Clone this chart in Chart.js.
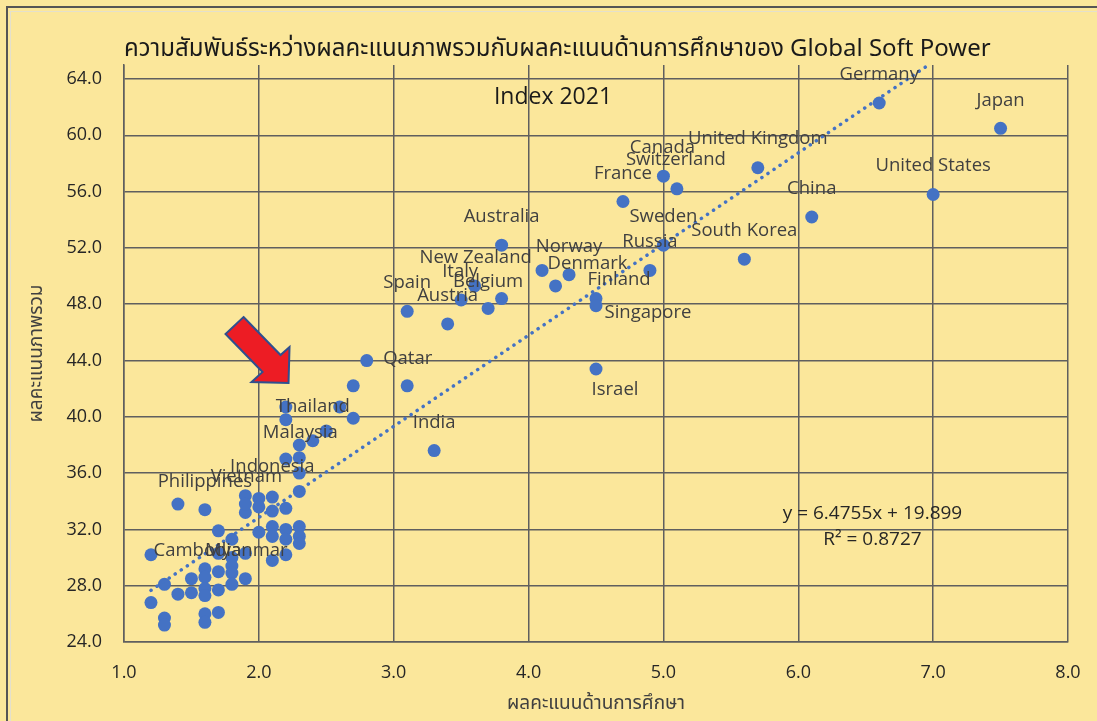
<!DOCTYPE html>
<html lang="th">
<head>
<meta charset="utf-8">
<title>Global Soft Power Index 2021</title>
<script src="https://cdn.jsdelivr.net/npm/chart.js@4.4.1/dist/chart.umd.min.js"></script>
<style>
  html, body { margin: 0; padding: 0; background: #fbe79b; overflow: hidden; }
  canvas { display: block; }
</style>
</head>
<body>
<canvas id="softPower" width="1097" height="721"></canvas>
<script>
// ประเทศที่มีชื่อกำกับ: คะแนนด้านการศึกษา (x) และคะแนนภาพรวม (y)
const countries = ['Germany', 'Japan', 'United States', 'China', 'United Kingdom', 'Canada',
  'Switzerland', 'France', 'Sweden', 'Russia', 'South Korea', 'Australia', 'Norway', 'Denmark',
  'Finland', 'Singapore', 'Israel', 'Spain', 'Austria', 'Italy', 'Belgium', 'New Zealand',
  'Qatar', 'India', 'Thailand', 'Malaysia', 'Indonesia', 'Vietnam', 'Philippines', 'Cambodia', 'Myanmar'];
const countryEducation = [6.6, 7.5, 7.0, 6.1, 5.7, 5.0,
  5.1, 4.7, 5.0, 4.9, 5.6, 3.8, 4.3, 4.2,
  4.5, 4.5, 4.5, 3.1, 3.4, 3.5, 3.7, 3.6,
  2.8, 3.3, 2.4, 2.3, 2.1, 1.9, 1.6, 1.5, 1.9];
const countryOverall = [62.3, 60.5, 55.8, 54.2, 57.7, 57.1,
  56.2, 55.3, 52.2, 50.4, 51.2, 52.2, 50.1, 49.3,
  48.4, 47.9, 43.4, 47.5, 46.6, 48.3, 47.7, 49.3,
  44.0, 37.6, 38.3, 37.1, 34.3, 33.8, 33.4, 28.5, 28.5];

// ประเทศอื่น ๆ ที่ไม่มีชื่อกำกับ
const otherEducation = [
  1.2, 1.2, 1.3, 1.3, 1.3, 1.4, 1.4, 1.5,
  1.6, 1.6, 1.6, 1.6, 1.6, 1.6,
  1.7, 1.7, 1.7, 1.7, 1.7,
  1.8, 1.8, 1.8, 1.8, 1.8,
  1.9, 1.9, 1.9, 2.0, 2.0, 2.0,
  2.1, 2.1, 2.1, 2.1,
  2.2, 2.2, 2.2, 2.2, 2.2,
  2.3, 2.3, 2.3, 2.3, 2.3, 2.3,
  2.5, 2.2, 2.2, 2.6, 2.7, 2.7, 3.1, 3.8, 4.1];
const otherOverall = [
  30.2, 26.8, 28.1, 25.7, 25.2, 33.8, 27.4, 27.5,
  29.2, 28.6, 27.8, 27.3, 26.0, 25.4,
  31.9, 30.3, 29.0, 27.7, 26.1,
  31.3, 30.0, 29.4, 28.9, 28.1,
  34.4, 33.2, 30.3, 34.2, 33.6, 31.8,
  33.3, 32.2, 31.5, 29.8,
  33.5, 32.0, 31.3, 30.2, 37.0,
  32.2, 31.5, 31.0, 34.7, 36.0, 38.0,
  39.0, 39.8, 40.7, 40.7, 39.9, 42.2, 42.2, 48.4, 50.4];

// เส้นแนวโน้มเชิงเส้น
const slope = 6.4755;
const intercept = 19.899;
const rSquared = 0.8727;

const xTicks = [1, 2, 3, 4, 5, 6, 7, 8];
const yTicks = [24, 28, 32, 36, 40, 44, 48, 52, 56, 60, 64];

// ตำแหน่งป้ายชื่อเทียบกับจุด (px)
const labelShift = [[0, -28], [0, -28], [0, -29], [0, -28], [0, -29], [-1, -28],
  [-1, -29], [0, -28], [0, -28], [0, -29], [0, -28], [0, -28], [0, -28], [32, -22],
  [23, -19], [52, 7], [19, 21], [0, -29], [0, -28], [-1, -28], [0, -27], [1, -28],
  [41, -2], [0, -28], [0, -34], [1, -25], [0, -30], [1, -27], [0, -28], [6, -28], [1, -28]];

const DOT = '#4472c4';
const THAI = '"Noto Sans Thai", "Noto Sans Thai UI", Tahoma, "Noto Sans", sans-serif';
const LATIN = '"Open Sans", "Noto Sans", sans-serif';

const allX = countryEducation.concat(otherEducation);
const trendX = [Math.min(...allX), Math.max(...allX)];

const sheetBackdrop = {
  id: 'sheetBackdrop',
  beforeDraw(chart) {
    const { ctx, width, height } = chart;
    ctx.save();
    ctx.fillStyle = '#fbe79b';
    ctx.fillRect(0, 0, width, height);
    ctx.fillStyle = '#555555';
    ctx.fillRect(6, 6, width - 6, 2);
    ctx.fillRect(6, 6, 2, height - 6);
    ctx.fillStyle = '#e4e0cc';
    ctx.fillRect(9, 11, width - 9, 1);
    ctx.fillRect(10, 11, 1, height - 11);
    ctx.restore();
  }
};

const titleText = {
  id: 'titleText',
  afterDraw(chart) {
    const { ctx, chartArea } = chart;
    ctx.save();
    ctx.fillStyle = '#1a1a1a';
    ctx.textBaseline = 'middle';
    ctx.textAlign = 'left';
    ctx.font = '24px ' + THAI;
    ctx.fillText('ความสัมพันธ์ระหว่างผลคะแนนภาพรวมกับผลคะแนนด้านการศึกษาของ Global Soft Power', chartArea.left, 51);
    ctx.textAlign = 'center';
    ctx.font = '23px ' + LATIN;
    ctx.fillText('Index 2021', 553, 97);
    ctx.restore();
  }
};

const countryLabels = {
  id: 'countryLabels',
  afterDatasetsDraw(chart) {
    const { ctx } = chart;
    const meta = chart.getDatasetMeta(0);
    ctx.save();
    ctx.fillStyle = '#404040';
    ctx.font = '18.5px ' + LATIN;
    ctx.textAlign = 'center';
    ctx.textBaseline = 'middle';
    meta.data.forEach((pt, i) => {
      ctx.fillText(countries[i], pt.x + labelShift[i][0], pt.y + labelShift[i][1]);
    });
    ctx.restore();
  }
};

// สมการและค่า R² ของเส้นแนวโน้ม
const trendNote = {
  id: 'trendNote',
  afterDatasetsDraw(chart) {
    const { ctx, scales } = chart;
    const cx = scales.x.getPixelForValue(6.55);
    const cy = scales.y.getPixelForValue(33.1);
    ctx.save();
    ctx.fillStyle = '#262626';
    ctx.font = '19px ' + LATIN;
    ctx.textAlign = 'center';
    ctx.textBaseline = 'middle';
    ctx.fillText('y = ' + slope + 'x + ' + intercept, cx, cy);
    ctx.fillText('R² = ' + rSquared, cx, cy + 26);
    ctx.restore();
  }
};

// ลูกศรสีแดงชี้ไปที่ประเทศไทย
const pointerArrow = {
  id: 'pointerArrow',
  afterDatasetsDraw(chart) {
    const { ctx, scales } = chart;
    const tx = scales.x.getPixelForValue(2.22);
    const ty = scales.y.getPixelForValue(42.4);
    const shape = [[-45, -66], [-8, -28], [1, -36], [0, 0], [-37, -1], [-26, -11], [-63, -49]];
    ctx.save();
    ctx.beginPath();
    shape.forEach(([dx, dy], i) => (i ? ctx.lineTo(tx + dx, ty + dy) : ctx.moveTo(tx + dx, ty + dy)));
    ctx.closePath();
    ctx.fillStyle = '#ed1c24';
    ctx.fill();
    ctx.lineWidth = 2;
    ctx.strokeStyle = '#2f4f8f';
    ctx.lineJoin = 'miter';
    ctx.stroke();
    ctx.restore();
  }
};

const grid = { color: '#5f5f5f', lineWidth: 1.5, drawTicks: false };

new Chart(document.getElementById('softPower'), {
  type: 'scatter',
  data: {
    datasets: [
      {
        label: 'labelled',
        data: countryEducation.map((x, i) => ({ x, y: countryOverall[i] })),
        backgroundColor: DOT,
        borderWidth: 0,
        pointRadius: 6.5,
        order: 1
      },
      {
        label: 'others',
        data: otherEducation.map((x, i) => ({ x, y: otherOverall[i] })),
        backgroundColor: DOT,
        borderWidth: 0,
        pointRadius: 6.5,
        order: 1
      },
      {
        type: 'line',
        label: 'trend',
        data: trendX.map(x => ({ x, y: slope * x + intercept })),
        borderColor: DOT,
        borderWidth: 3.5,
        borderDash: [0.1, 7.2],
        borderCapStyle: 'round',
        pointRadius: 0,
        fill: false,
        order: 0
      }
    ]
  },
  options: {
    responsive: false,
    animation: false,
    events: [],
    layout: { padding: { top: 65, right: 29, left: 0, bottom: 0 } },
    plugins: { legend: { display: false }, tooltip: { enabled: false } },
    scales: {
      x: {
        type: 'linear',
        min: xTicks[0],
        max: xTicks[xTicks.length - 1],
        afterFit: s => { s.height = 79; s.paddingLeft = 0; s.paddingRight = 0; },
        afterBuildTicks: s => { s.ticks = xTicks.map(value => ({ value })); },
        grid,
        border: { color: '#5f5f5f', width: 1.5 },
        ticks: {
          color: '#262626',
          font: { family: LATIN, size: 18 },
          padding: 20,
          callback: v => v.toFixed(1)
        },
        title: {
          display: true,
          text: 'ผลคะแนนด้านการศึกษา',
          color: '#404040',
          font: { family: THAI, size: 19 },
          padding: { top: 0, bottom: 4 }
        }
      },
      y: {
        type: 'linear',
        min: 24,
        max: 65,
        afterFit: s => { s.width = 124; s.paddingTop = 0; s.paddingBottom = 0; },
        afterBuildTicks: s => { s.ticks = yTicks.map(value => ({ value })); },
        grid,
        border: { color: '#5f5f5f', width: 1.5 },
        ticks: {
          color: '#262626',
          font: { family: LATIN, size: 18 },
          padding: 22,
          callback: v => v.toFixed(1)
        },
        title: {
          display: true,
          text: 'ผลคะแนนภาพรวม',
          color: '#404040',
          font: { family: THAI, size: 19 },
          padding: { top: 27, bottom: 0 }
        }
      }
    }
  },
  plugins: [sheetBackdrop, titleText, countryLabels, trendNote, pointerArrow]
});
</script>
</body>
</html>
